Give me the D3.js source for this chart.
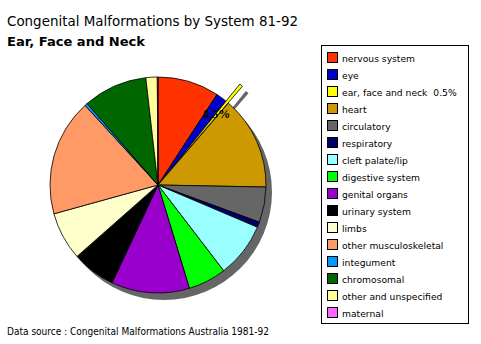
<!DOCTYPE html>
<html><head><meta charset="utf-8">
<script src="https://cdn.jsdelivr.net/npm/d3@7"></script>
<style>body{margin:0;background:#fff}svg{display:block}text{white-space:pre}</style>
</head><body><svg id="c" width="481" height="344"></svg>
<script>
const categories = ["nervous system","eye","ear, face and neck","heart","circulatory","respiratory","cleft palate/lip","digestive system","genital organs","urinary system","limbs","other musculoskeletal","integument","chromosomal","other and unspecified","maternal"];
const values = [9.2,1.6,0.5,14.0,5.3,0.8,8.2,5.7,11.7,6.5,7.2,17.5,0.4,9.6,1.7,0.1];
const legendLabels = ["nervous system","eye","ear, face and neck  0.5%","heart","circulatory","respiratory","cleft palate/lip","digestive system","genital organs","urinary system","limbs","other musculoskeletal","integument","chromosomal","other and unspecified","maternal"];
const colors = ["#FF3300","#0000CC","#FFFF00","#CC9900","#666666","#000066","#99FFFF","#00FF00","#9900CC","#000000","#FFFFCC","#FF9966","#0099FF","#006600","#FFFF99","#FF66FF"];
const explodedIndex = 2;
const explodedLabel = "0.5%";

const svg = d3.select("#c");
const font = "'DejaVu Sans', Verdana, sans-serif";
const cx = 158, cy = 185, r = 108, shadowDx = 6, shadowDy = 7, explode = 22;

svg.append("text").attr("x",7).attr("y",26).attr("font-family",font).attr("font-size",14.5)
  .attr("textLength",291).attr("lengthAdjust","spacingAndGlyphs")
  .text("Congenital Malformations by System 81-92");
svg.append("text").attr("x",7).attr("y",46).attr("font-family",font).attr("font-size",12).attr("font-weight","bold")
  .attr("textLength",138).attr("lengthAdjust","spacingAndGlyphs")
  .text("Ear, Face and Neck");

const pie = d3.pie().sort(null).value(d=>d);
const arcs = pie(values);
const arc = d3.arc().innerRadius(0).outerRadius(r);

const g = svg.append("g").attr("transform",`translate(${cx},${cy})`);
// shadow
g.append("circle").attr("cx",shadowDx).attr("cy",shadowDy).attr("r",r).attr("fill","#666666");
const ex = arcs[explodedIndex];
const mid = (ex.startAngle+ex.endAngle)/2;
const ox = explode*Math.sin(mid), oy = -explode*Math.cos(mid);
g.append("path").attr("d",arc(ex)).attr("transform",`translate(${ox+shadowDx},${oy+shadowDy})`).attr("fill","#666666");

g.selectAll("path.slice").data(arcs).enter().append("path").attr("class","slice")
  .attr("d",arc)
  .attr("transform",(d,i)=> i===explodedIndex?`translate(${ox},${oy})`:null)
  .attr("fill",(d,i)=>colors[i])
  .attr("stroke","#000").attr("stroke-width",0.8).attr("stroke-linejoin","round");

g.append("text").attr("x",(r*0.85)*Math.sin(mid)).attr("y",-(r*0.85)*Math.cos(mid)+4)
  .attr("font-family","'Liberation Serif', 'Times New Roman', serif").attr("font-weight","bold").attr("font-size",12)
  .attr("text-anchor","middle").text(explodedLabel);

// legend
svg.append("rect").attr("x",321.5).attr("y",45.5).attr("width",147).attr("height",278)
  .attr("fill","#fff").attr("stroke","#000").attr("stroke-width",1);
const lg = svg.append("g");
legendLabels.forEach((t,i)=>{
  const y = 52 + 17*i;
  lg.append("rect").attr("x",327.5).attr("y",y+0.5).attr("width",10).attr("height",10)
    .attr("fill",colors[i]).attr("stroke","#000").attr("stroke-width",1);
  lg.append("text").attr("x",342).attr("y",y+9.5).attr("font-family",font).attr("font-size",9.2)
    .text(t);
});

svg.append("text").attr("x",7).attr("y",335).attr("font-family",font).attr("font-size",10)
  .attr("textLength",262).attr("lengthAdjust","spacingAndGlyphs")
  .text("Data source : Congenital Malformations Australia 1981-92");
</script></body></html>
